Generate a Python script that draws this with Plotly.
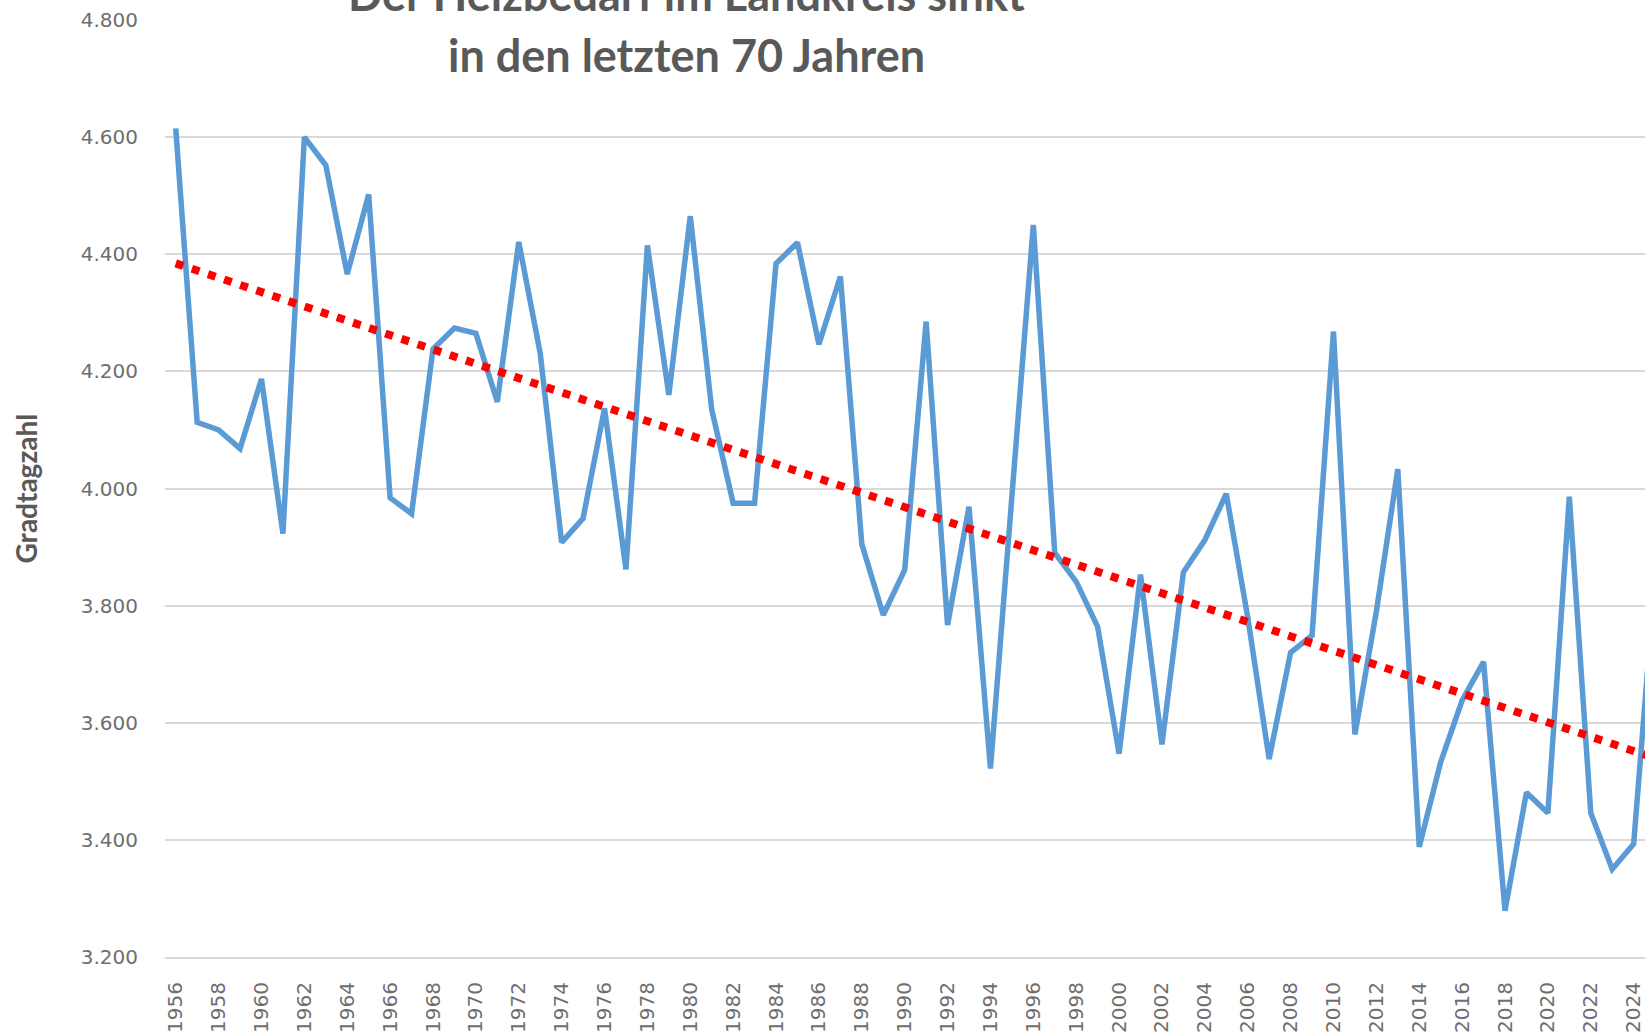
import numpy as np
import plotly.graph_objects as go

years = list(range(1956, 2026))
gradtagzahl = [
    4615, 4113, 4100, 4068, 4187, 3923, 4600, 4552, 4366, 4502,
    3984, 3957, 4238, 4274, 4265, 4148, 4421, 4231, 3908, 3949,
    4137, 3862, 4415, 4160, 4465, 4135, 3975, 3975, 4384, 4420,
    4246, 4362, 3905, 3784, 3861, 4285, 3767, 3969, 3522, 4000,
    4450, 3890, 3841, 3764, 3547, 3853, 3563, 3857, 3912, 3991,
    3780, 3538, 3720, 3749, 4268, 3580, 3790, 4033, 3388, 3533,
    3638, 3704, 3279, 3481, 3446, 3986, 3446, 3350, 3393, 3850,
]
title_line1 = "Der Heizbedarf im Landkreis sinkt"
title_line2 = "in den letzten 70 Jahren"
y_title = "Gradtagzahl"
y_ticks = [3200, 3400, 3600, 3800, 4000, 4200, 4400, 4600, 4800]

# linear trend fitted on the complete years (1956-2024), drawn over all years
fit_years = years[:-1]
fit_vals = gradtagzahl[:-1]
coef = np.polyfit(fit_years, fit_vals, 1)
trend = list(np.polyval(coef, years))

W, H = 1645, 1032
ML, MR, MT, MB = 165, 0, 20, 75
plot_w = W - ML - MR
plot_h = H - MT - MB
px_per_year = 21.44

fig = go.Figure()
fig.add_trace(go.Scatter(
    x=years, y=gradtagzahl, mode="lines",
    line=dict(color="#5B9BD5", width=5.5),
    showlegend=False, hoverinfo="skip",
))
fig.add_trace(go.Scatter(
    x=years, y=trend, mode="lines",
    line=dict(color="#FF0000", width=8, dash="8px,9px"),
    showlegend=False, hoverinfo="skip",
))

x0 = years[0] - 0.5
x1 = x0 + plot_w / px_per_year

fig.update_layout(
    width=W, height=H,
    margin=dict(l=ML, r=MR, t=MT, b=MB, pad=0),
    paper_bgcolor="white", plot_bgcolor="white",
    separators=",.",
    xaxis=dict(
        range=[x0, x1], tickmode="linear", tick0=1956, dtick=2,
        tickangle=-90, showgrid=False, zeroline=False,
        showline=True, linecolor="#D9D9D9", linewidth=2,
        ticks="", ticklabelstandoff=15, automargin=False,
        ticklabeloverflow="allow",
        tickfont=dict(family="DejaVu Sans", size=20, color="#6E6E6E"),
    ),
    yaxis=dict(
        range=[3200, 4800], tickvals=y_ticks, tickformat=",d",
        showgrid=True, gridcolor="#D9D9D9", gridwidth=2,
        zeroline=False, showline=False, ticks="", automargin=False,
        ticklabelstandoff=26,
        tickfont=dict(family="DejaVu Sans", size=20, color="#6E6E6E"),
    ),
    annotations=[
        dict(text="<b>%s</b>" % title_line1, xref="paper", yref="paper",
             x=(686 - ML) / plot_w, y=(H - MB + 6) / plot_h,
             xanchor="center", yanchor="middle", showarrow=False,
             font=dict(family="Lato", size=45, color="#595959")),
        dict(text="<b>%s</b>" % title_line2, xref="paper", yref="paper",
             x=(686 - ML) / plot_w, y=(H - MB - 55) / plot_h,
             xanchor="center", yanchor="middle", showarrow=False,
             font=dict(family="Lato", size=45, color="#595959")),
        dict(text="<b>%s</b>" % y_title, xref="paper", yref="paper",
             x=(25 - ML) / plot_w, y=0.5, textangle=-90,
             xanchor="center", yanchor="middle", showarrow=False,
             font=dict(family="Lato", size=28, color="#595959")),
    ],
)

fig.write_html(
    "out.html",
    config={"displayModeBar": False},
    post_script="document.body.style.margin='0';document.body.style.overflow='hidden';",
)
